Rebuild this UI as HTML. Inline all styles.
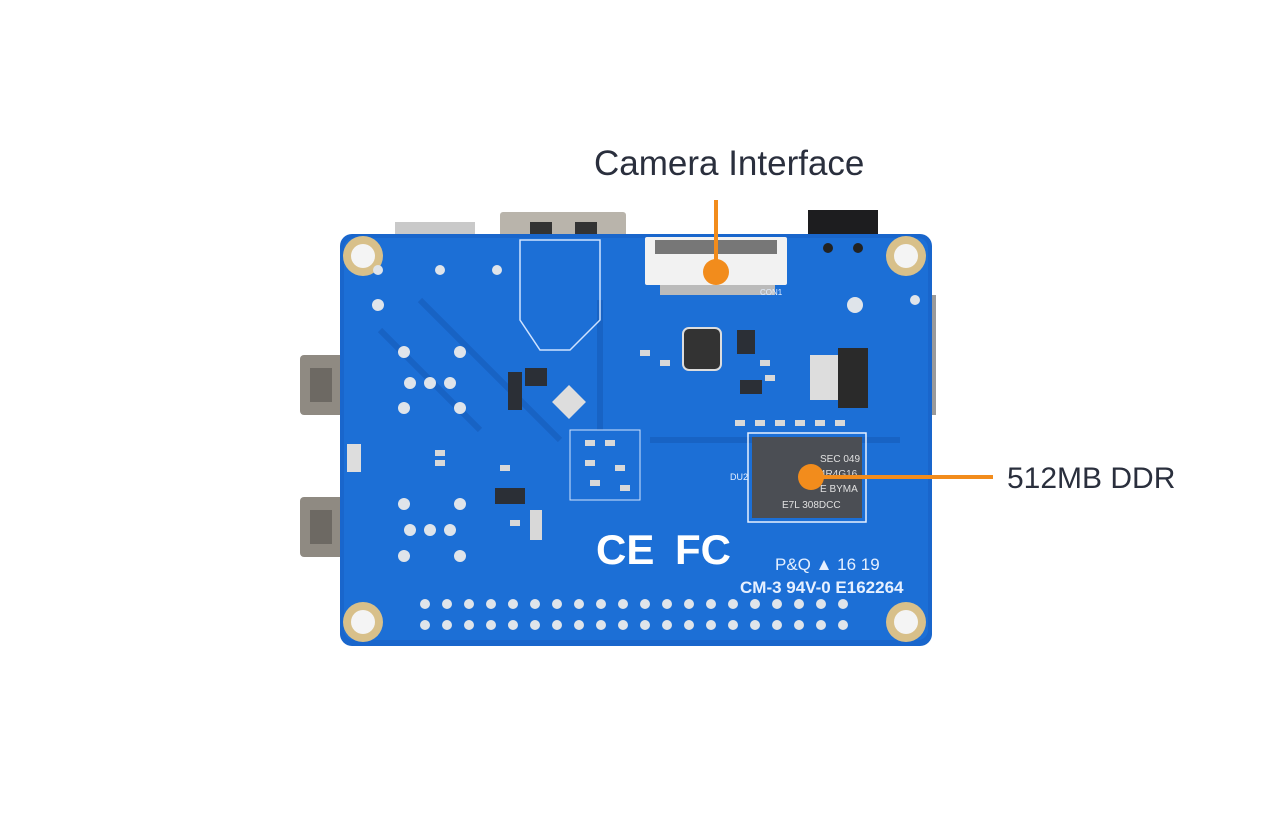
<!DOCTYPE html>
<html><head><meta charset="utf-8"><style>
body{margin:0;background:#fff;width:1282px;height:835px;overflow:hidden}
svg{display:block}
text{font-family:"Liberation Sans",sans-serif}
</style></head><body>
<svg width="1282" height="835" viewBox="0 0 1282 835" xmlns="http://www.w3.org/2000/svg">
<rect width="1282" height="835" fill="#fff"/>
<rect x="395" y="222" width="80" height="16" fill="#c9c9c9"/>
<rect x="500" y="212" width="126" height="26" fill="#b9b4ab" rx="3"/>
<rect x="530" y="222" width="22" height="16" fill="#333"/>
<rect x="575" y="222" width="22" height="16" fill="#333"/>
<rect x="808" y="210" width="70" height="28" fill="#1d1d1f"/>
<rect x="300" y="355" width="44" height="60" fill="#8f8a82" rx="4"/>
<rect x="310" y="368" width="22" height="34" fill="#6d6963"/>
<rect x="300" y="497" width="44" height="60" fill="#8f8a82" rx="4"/>
<rect x="310" y="510" width="22" height="34" fill="#6d6963"/>
<rect x="928" y="295" width="8" height="120" fill="#9a9a9a"/>
<rect x="340" y="234" width="592" height="412" rx="12" fill="#1966cc"/>
<rect x="344" y="238" width="584" height="402" rx="10" fill="#1c6fd6"/>
<path d="M380 330 L480 430 M420 300 L560 440 M600 300 L600 430 M650 440 L900 440" stroke="#1863c4" stroke-width="6" fill="none"/>
<g fill="#d8c08a"><circle cx="363" cy="256" r="20"/><circle cx="906" cy="256" r="20"/><circle cx="363" cy="622" r="20"/><circle cx="906" cy="622" r="20"/></g>
<g fill="#f4f4f4"><circle cx="363" cy="256" r="12"/><circle cx="906" cy="256" r="12"/><circle cx="363" cy="622" r="12"/><circle cx="906" cy="622" r="12"/></g>
<rect x="645" y="237" width="142" height="48" fill="#f2f2f2" rx="2"/>
<rect x="655" y="240" width="122" height="14" fill="#777"/>
<rect x="660" y="285" width="115" height="10" fill="#bbb"/>
<path d="M520 240 L600 240 L600 320 L570 350 L540 350 L520 320 Z" fill="none" stroke="#cfe3ff" stroke-width="1.5"/>
<rect x="683" y="328" width="38" height="42" rx="6" fill="#333" stroke="#ddd" stroke-width="2"/>
<rect x="810" y="355" width="30" height="45" fill="#ddd"/>
<rect x="838" y="348" width="30" height="60" fill="#2a2a2a"/>
<g fill="#2b2f36"><rect x="508" y="372" width="14" height="38"/><rect x="525" y="368" width="22" height="18"/><rect x="495" y="488" width="30" height="16"/><rect x="740" y="380" width="22" height="14"/><rect x="737" y="330" width="18" height="24"/></g>
<rect x="557" y="390" width="24" height="24" fill="#ddd" transform="rotate(45 569 402)"/>
<!-- small component clusters -->
<g fill="#d8d8d8">
<rect x="570" y="430" width="70" height="70" fill="none" stroke="#cfe3ff"/>
<rect x="585" y="440" width="10" height="6"/><rect x="605" y="440" width="10" height="6"/><rect x="585" y="460" width="10" height="6"/><rect x="615" y="465" width="10" height="6"/><rect x="590" y="480" width="10" height="6"/><rect x="620" y="485" width="10" height="6"/>
<rect x="660" y="360" width="10" height="6"/><rect x="640" y="350" width="10" height="6"/><rect x="760" y="360" width="10" height="6"/><rect x="765" y="375" width="10" height="6"/>
<rect x="735" y="420" width="10" height="6"/><rect x="755" y="420" width="10" height="6"/><rect x="775" y="420" width="10" height="6"/><rect x="795" y="420" width="10" height="6"/><rect x="815" y="420" width="10" height="6"/><rect x="835" y="420" width="10" height="6"/>
<rect x="435" y="450" width="10" height="6"/><rect x="435" y="460" width="10" height="6"/><rect x="500" y="465" width="10" height="6"/><rect x="510" y="520" width="10" height="6"/><rect x="530" y="510" width="12" height="30"/>
</g>
<g fill="#e6f0ff" font-size="8">
<text x="760" y="295">CON1</text>
<text x="730" y="480" font-size="9">DU2</text>
<text x="775" y="570" font-size="17">P&amp;Q ▲ 16 19</text>
<text x="740" y="593" font-size="17" font-weight="bold" font-family="Liberation Mono">CM-3 94V-0 E162264</text>
<text x="596" y="564" font-size="42" font-weight="bold" fill="#fff">CE</text>
<text x="675" y="564" font-size="42" font-weight="bold" fill="#fff">FC</text>
</g>
<rect x="748" y="433" width="118" height="89" fill="none" stroke="#e6f0ff" stroke-width="1.5"/>
<rect x="752" y="437" width="110" height="81" fill="#4b4e54"/>
<g fill="#e0e0e0" font-size="10"><text x="820" y="462">SEC 049</text><text x="820" y="477">4R4G16</text><text x="820" y="492">E BYMA</text><text x="782" y="508">E7L 308DCC</text></g>
<g fill="#dfe4ea">
<circle cx="425" cy="604" r="5"/><circle cx="447" cy="604" r="5"/><circle cx="469" cy="604" r="5"/><circle cx="491" cy="604" r="5"/><circle cx="513" cy="604" r="5"/><circle cx="535" cy="604" r="5"/><circle cx="557" cy="604" r="5"/><circle cx="579" cy="604" r="5"/><circle cx="601" cy="604" r="5"/><circle cx="623" cy="604" r="5"/><circle cx="645" cy="604" r="5"/><circle cx="667" cy="604" r="5"/><circle cx="689" cy="604" r="5"/><circle cx="711" cy="604" r="5"/><circle cx="733" cy="604" r="5"/><circle cx="755" cy="604" r="5"/><circle cx="777" cy="604" r="5"/><circle cx="799" cy="604" r="5"/><circle cx="821" cy="604" r="5"/><circle cx="843" cy="604" r="5"/>
<circle cx="425" cy="625" r="5"/><circle cx="447" cy="625" r="5"/><circle cx="469" cy="625" r="5"/><circle cx="491" cy="625" r="5"/><circle cx="513" cy="625" r="5"/><circle cx="535" cy="625" r="5"/><circle cx="557" cy="625" r="5"/><circle cx="579" cy="625" r="5"/><circle cx="601" cy="625" r="5"/><circle cx="623" cy="625" r="5"/><circle cx="645" cy="625" r="5"/><circle cx="667" cy="625" r="5"/><circle cx="689" cy="625" r="5"/><circle cx="711" cy="625" r="5"/><circle cx="733" cy="625" r="5"/><circle cx="755" cy="625" r="5"/><circle cx="777" cy="625" r="5"/><circle cx="799" cy="625" r="5"/><circle cx="821" cy="625" r="5"/><circle cx="843" cy="625" r="5"/>
</g>
<g fill="#dfe4ea"><circle cx="410" cy="383" r="6"/><circle cx="430" cy="383" r="6"/><circle cx="450" cy="383" r="6"/><circle cx="410" cy="530" r="6"/><circle cx="430" cy="530" r="6"/><circle cx="450" cy="530" r="6"/><circle cx="404" cy="352" r="6"/><circle cx="460" cy="352" r="6"/><circle cx="404" cy="408" r="6"/><circle cx="460" cy="408" r="6"/><circle cx="404" cy="504" r="6"/><circle cx="460" cy="504" r="6"/><circle cx="404" cy="556" r="6"/><circle cx="460" cy="556" r="6"/><circle cx="855" cy="305" r="8"/><circle cx="915" cy="300" r="5"/><circle cx="828" cy="248" r="5" fill="#222"/><circle cx="858" cy="248" r="5" fill="#222"/><circle cx="378" cy="305" r="6"/><circle cx="440" cy="270" r="5"/><circle cx="497" cy="270" r="5"/><circle cx="378" cy="270" r="5"/></g>
<rect x="347" y="444" width="14" height="28" fill="#ddd"/>
<line x1="716" y1="200" x2="716" y2="272" stroke="#f28c1c" stroke-width="4"/>
<circle cx="716" cy="272" r="13" fill="#f28c1c"/>
<line x1="811" y1="477" x2="993" y2="477" stroke="#f28c1c" stroke-width="4"/>
<circle cx="811" cy="477" r="13" fill="#f28c1c"/>
<text x="594" y="175" font-size="35" fill="#2a2f3d">Camera Interface</text>
<text x="1007" y="488" font-size="30" fill="#2a2f3d">512MB DDR</text>
</svg>
</body></html>
